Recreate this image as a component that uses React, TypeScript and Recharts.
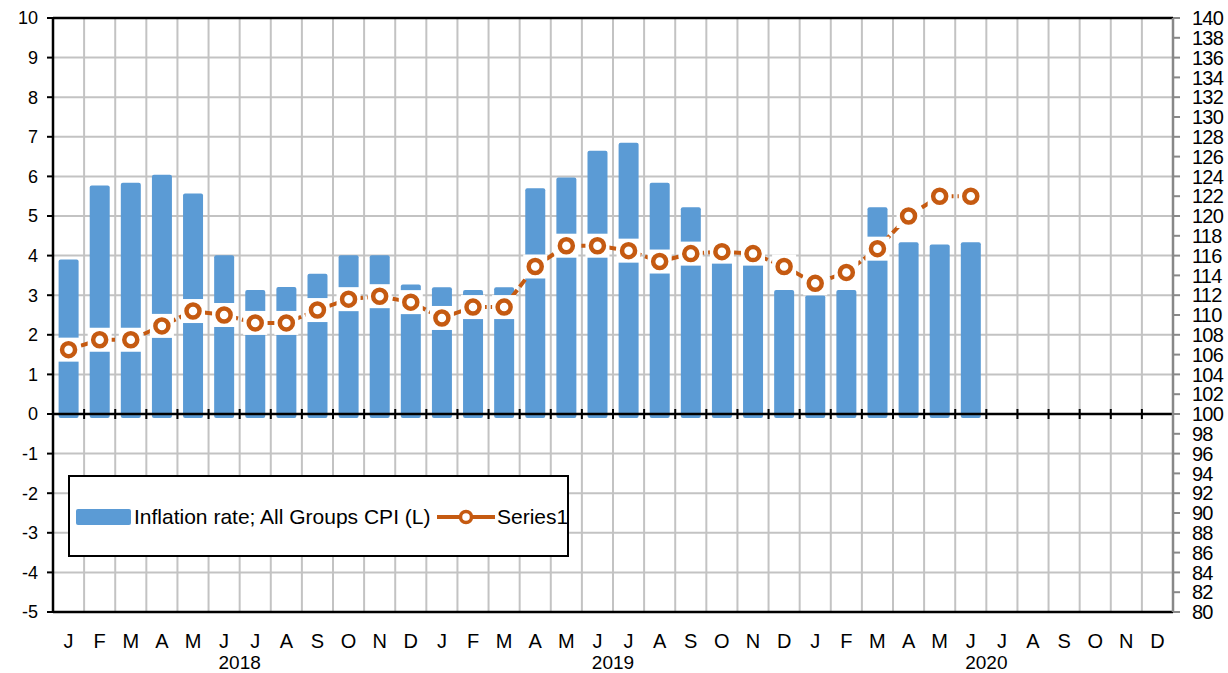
import { ComposedChart, Bar, Line, XAxis, YAxis, CartesianGrid, ReferenceLine, Legend } from 'recharts';

const months = ['J', 'F', 'M', 'A', 'M', 'J', 'J', 'A', 'S', 'O', 'N', 'D',
  'J', 'F', 'M', 'A', 'M', 'J', 'J', 'A', 'S', 'O', 'N', 'D',
  'J', 'F', 'M', 'A', 'M', 'J', 'J', 'A', 'S', 'O', 'N', 'D'];
const years = ['2018', '2019', '2020'];

// Inflation rate; All Groups CPI (L), % - Jan 2018 to Jun 2020
const inflation = [3.9, 5.77, 5.84, 6.04, 5.57, 4.01, 3.13, 3.21, 3.54, 4.01, 4.01, 3.27,
  3.2, 3.13, 3.2, 5.7, 5.97, 6.65, 6.85, 5.84, 5.22, 4.0, 3.8, 3.13,
  3.0, 3.13, 5.22, 4.34, 4.28, 4.34];
// Series1 (R), index
const series1 = [106.5, 107.5, 107.5, 108.9, 110.4, 110.0, 109.2, 109.2, 110.5, 111.6, 111.9, 111.3,
  109.7, 110.8, 110.8, 114.9, 117.0, 117.0, 116.5, 115.4, 116.2, 116.4, 116.2, 114.9,
  113.2, 114.3, 116.7, 120.0, 122.0, 122.0];

const leftTicks = [-5, -4, -3, -2, -1, 0, 1, 2, 3, 4, 5, 6, 7, 8, 9, 10];
const rightTicks = Array.from({ length: 31 }, (_, i) => 80 + i * 2);

const data = months.map((m, i) => ({
  idx: i,
  inflation: i < inflation.length ? inflation[i] : null,
  series1: i < series1.length ? series1[i] : null,
}));

const FONT = '"Liberation Sans", Arial, sans-serif';
const BLUE = '#5B9BD5';
const ORANGE = '#C55A11';
const N = months.length;
const PLOT_W = 1120;
const HALF = PLOT_W / N / 2;

const MonthTick = (props: any) => {
  const { x, y, payload } = props;
  const i = payload.value;
  return (
    <g>
      <text x={x} y={y + 36} textAnchor="middle" fontSize={20} fontFamily={FONT} fill="#000">{months[i]}</text>
      {i % 12 === 5 && (
        <text x={x + HALF} y={y + 57} textAnchor="middle" fontSize={19} fontFamily={FONT} fill="#000">
          {years[Math.floor(i / 12)]}
        </text>
      )}
    </g>
  );
};

const BarShape = (props: any) => {
  const { x, y, width, height } = props;
  if (height == null || isNaN(height)) return null;
  return <rect x={x} y={y} width={width} height={height + 4} rx={2} ry={2} fill={BLUE} />;
};

const Marker = (props: any) => {
  const { cx, cy, value, index } = props;
  if (value == null || cx == null || cy == null) return <g key={index} />;
  return (
    <g key={index}>
      <rect x={cx - 12} y={cy - 12} width={24} height={24} fill="#fff" />
      <circle cx={cx} cy={cy} r={6.5} fill="#fff" stroke={ORANGE} strokeWidth={4.5} />
    </g>
  );
};

const ZeroLine = (props: any) => {
  const { x1, x2, y1 } = props;
  const step = (x2 - x1) / N;
  return (
    <g>
      <line x1={x1} x2={x2} y1={y1} y2={y1} stroke="#000" strokeWidth={2.5} />
      {Array.from({ length: N - 1 }, (_, i) => (
        <line key={i} x1={x1 + (i + 1) * step} x2={x1 + (i + 1) * step} y1={y1 - 5} y2={y1 + 5} stroke="#000" strokeWidth={2} />
      ))}
    </g>
  );
};

const renderLegend = () => (
  <div style={{ position: 'relative', width: 501, height: 82, boxSizing: 'border-box', border: '2px solid #000', background: '#fff', fontFamily: FONT, fontSize: 21, color: '#000' }}>
    <div style={{ position: 'absolute', left: 6, top: 32, width: 55, height: 16, background: BLUE, borderRadius: 2 }} />
    <div style={{ position: 'absolute', left: 64, top: 27, lineHeight: '26px', whiteSpace: 'nowrap' }}>Inflation rate; All Groups CPI (L)</div>
    <svg style={{ position: 'absolute', left: 366, top: 30 }} width={60} height={20}>
      <line x1={1} x2={59} y1={10} y2={10} stroke={ORANGE} strokeWidth={4} />
      <circle cx={30} cy={10} r={5.5} fill="#fff" stroke={ORANGE} strokeWidth={3.5} />
    </svg>
    <div style={{ position: 'absolute', left: 427, top: 27, lineHeight: '26px', whiteSpace: 'nowrap' }}>Series1</div>
  </div>
);

export default function App() {
  return (
    <div style={{ position: 'absolute', left: 0, top: 0, background: '#fff' }}>
      <ComposedChart width={1228} height={673} data={data} margin={{ top: 18, right: 0, bottom: 0, left: 0 }} barCategoryGap="18%">
        <CartesianGrid
          yAxisId="left"
          stroke="#C3C3C3"
          strokeWidth={2}
          verticalCoordinatesGenerator={({ offset }: any) =>
            Array.from({ length: N - 1 }, (_, i) => offset.left + ((i + 1) * offset.width) / N)
          }
        />
        <XAxis
          dataKey="idx"
          type="category"
          interval={0}
          height={61}
          tickLine={false}
          tickSize={0}
          tickMargin={0}
          axisLine={{ stroke: '#000', strokeWidth: 2.5 }}
          tick={<MonthTick />}
        />
        <YAxis
          yAxisId="left"
          domain={[-5, 10]}
          ticks={leftTicks}
          interval={0}
          width={53}
          tickSize={6}
          tickMargin={9}
          axisLine={{ stroke: '#000', strokeWidth: 2.5 }}
          tickLine={{ stroke: '#000', strokeWidth: 2 }}
          tick={{ fill: '#000', fontSize: 18, fontFamily: FONT }}
        />
        <YAxis
          yAxisId="right"
          orientation="right"
          domain={[80, 140]}
          ticks={rightTicks}
          interval={0}
          width={55}
          tickSize={7}
          tickMargin={12}
          axisLine={{ stroke: '#888', strokeWidth: 2.5 }}
          tickLine={{ stroke: '#888', strokeWidth: 2 }}
          tick={{ fill: '#000', fontSize: 20, fontFamily: FONT, letterSpacing: -0.8 }}
        />
        <ReferenceLine yAxisId="left" y={10} stroke="#000" strokeWidth={2.5} />
        <Bar yAxisId="left" dataKey="inflation" name="Inflation rate; All Groups CPI (L)" fill={BLUE} shape={<BarShape />} isAnimationActive={false} />
        <ReferenceLine yAxisId="left" y={0} shape={<ZeroLine />} />
        <Line
          yAxisId="right"
          dataKey="series1"
          name="Series1"
          stroke={ORANGE}
          strokeWidth={4}
          strokeDasharray="9 4"
          dot={Marker}
          activeDot={false}
          isAnimationActive={false}
        />
        <Legend
          layout="horizontal"
          verticalAlign="middle"
          align="center"
          content={renderLegend}
          wrapperStyle={{ left: 68, top: 475, width: 501, height: 82 }}
        />
      </ComposedChart>
    </div>
  );
}
